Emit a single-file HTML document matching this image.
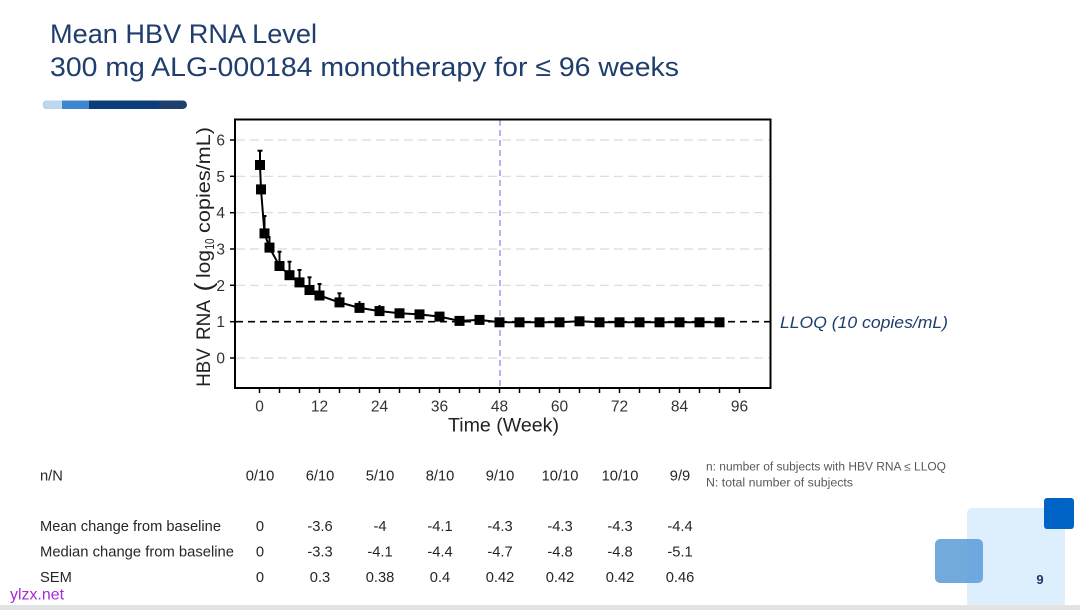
<!DOCTYPE html>
<html>
<head>
<meta charset="utf-8">
<style>
html,body{margin:0;padding:0;background:#fff;}
svg{display:block;}
</style>
</head>
<body>
<svg width="1080" height="610" viewBox="0 0 1080 610" xmlns="http://www.w3.org/2000/svg" font-family="'Liberation Sans', Arial, sans-serif">
  <rect x="0" y="0" width="1080" height="610" fill="#fff"/>

  <!-- Title -->
  <text x="50" y="43" font-size="27" fill="#1F3E6E" textLength="267" lengthAdjust="spacingAndGlyphs">Mean HBV RNA Level</text>
  <text x="50" y="76" font-size="27" fill="#1F3E6E" textLength="629" lengthAdjust="spacingAndGlyphs">300 mg ALG-000184 monotherapy for ≤ 96 weeks</text>

  <!-- decorative bar -->
  <rect x="43" y="100.5" width="144" height="8.5" rx="4.25" fill="#1F3F6E"/>
  <rect x="43" y="100.5" width="117" height="8.5" rx="4.25" fill="#0B3D7A"/>
  <rect x="43" y="100.5" width="50" height="8.5" rx="4.25" fill="#3E86CF"/>
  <rect x="89" y="100.5" width="8" height="8.5" fill="#0B3D7A"/>
  <rect x="43" y="100.5" width="24" height="8.5" rx="4.25" fill="#BDD7F0"/>
  <rect x="62" y="100.5" width="6" height="8.5" fill="#3E86CF"/>

  <!-- gridlines -->
  <g stroke="#d9d9d9" stroke-width="1.2" stroke-dasharray="9,5">
    <line x1="236" y1="140" x2="770" y2="140"/>
    <line x1="236" y1="176.3" x2="770" y2="176.3"/>
    <line x1="236" y1="212.7" x2="770" y2="212.7"/>
    <line x1="236" y1="249" x2="770" y2="249"/>
    <line x1="236" y1="285.3" x2="770" y2="285.3"/>
    <line x1="236" y1="358" x2="770" y2="358"/>
  </g>

  <!-- vertical week 48 line -->
  <line x1="500" y1="120" x2="500" y2="387" stroke="#a3a3f2" stroke-width="1.6" stroke-dasharray="6,4"/>

  <!-- LLOQ line -->
  <line x1="236" y1="321.7" x2="770" y2="321.7" stroke="#000" stroke-width="1.6" stroke-dasharray="7,5"/>

  <!-- frame -->
  <rect x="235" y="119.5" width="535.5" height="268.5" fill="none" stroke="#000" stroke-width="2"/>

  <!-- y ticks -->
  <g stroke="#000" stroke-width="1.5">
    <line x1="230" y1="140" x2="235" y2="140"/>
    <line x1="230" y1="176.3" x2="235" y2="176.3"/>
    <line x1="230" y1="212.7" x2="235" y2="212.7"/>
    <line x1="230" y1="249" x2="235" y2="249"/>
    <line x1="230" y1="285.3" x2="235" y2="285.3"/>
    <line x1="230" y1="321.7" x2="235" y2="321.7"/>
    <line x1="230" y1="358" x2="235" y2="358"/>
  </g>
  <g font-size="15.5" fill="#333" text-anchor="end">
    <text x="225" y="145.5">6</text>
    <text x="225" y="181.8">5</text>
    <text x="225" y="218.2">4</text>
    <text x="225" y="254.5">3</text>
    <text x="225" y="290.8">2</text>
    <text x="225" y="327.2">1</text>
    <text x="225" y="363.5">0</text>
  </g>

  <!-- x ticks -->
  <g stroke="#000" stroke-width="1.5">
    <line x1="259.5" y1="388" x2="259.5" y2="393"/>
    <line x1="279.5" y1="388" x2="279.5" y2="393"/>
    <line x1="299.5" y1="388" x2="299.5" y2="393"/>
    <line x1="319.5" y1="388" x2="319.5" y2="393"/>
    <line x1="339.5" y1="388" x2="339.5" y2="393"/>
    <line x1="359.5" y1="388" x2="359.5" y2="393"/>
    <line x1="379.5" y1="388" x2="379.5" y2="393"/>
    <line x1="399.5" y1="388" x2="399.5" y2="393"/>
    <line x1="419.5" y1="388" x2="419.5" y2="393"/>
    <line x1="439.5" y1="388" x2="439.5" y2="393"/>
    <line x1="459.5" y1="388" x2="459.5" y2="393"/>
    <line x1="479.5" y1="388" x2="479.5" y2="393"/>
    <line x1="499.5" y1="388" x2="499.5" y2="393"/>
    <line x1="519.5" y1="388" x2="519.5" y2="393"/>
    <line x1="539.5" y1="388" x2="539.5" y2="393"/>
    <line x1="559.5" y1="388" x2="559.5" y2="393"/>
    <line x1="579.5" y1="388" x2="579.5" y2="393"/>
    <line x1="599.5" y1="388" x2="599.5" y2="393"/>
    <line x1="619.5" y1="388" x2="619.5" y2="393"/>
    <line x1="639.5" y1="388" x2="639.5" y2="393"/>
    <line x1="659.5" y1="388" x2="659.5" y2="393"/>
    <line x1="679.5" y1="388" x2="679.5" y2="393"/>
    <line x1="699.5" y1="388" x2="699.5" y2="393"/>
    <line x1="719.5" y1="388" x2="719.5" y2="393"/>
    <line x1="739.5" y1="388" x2="739.5" y2="393"/>
  </g>
  <g font-size="15.5" fill="#333" text-anchor="middle">
    <text x="259.5" y="411.5">0</text>
    <text x="319.5" y="411.5">12</text>
    <text x="379.5" y="411.5">24</text>
    <text x="439.5" y="411.5">36</text>
    <text x="499.5" y="411.5">48</text>
    <text x="559.5" y="411.5">60</text>
    <text x="619.5" y="411.5">72</text>
    <text x="679.5" y="411.5">84</text>
    <text x="739.5" y="411.5">96</text>
  </g>

  <!-- axis titles -->
  <text x="448" y="431.5" font-size="19.4" fill="#222" textLength="111" lengthAdjust="spacingAndGlyphs">Time (Week)</text>
  <g fill="#222" font-size="19">
    <text transform="translate(210,386.7) rotate(-90)" textLength="38.4" lengthAdjust="spacingAndGlyphs">HBV</text>
    <text transform="translate(210,340) rotate(-90)" textLength="40" lengthAdjust="spacingAndGlyphs">RNA</text>
    <text transform="translate(212,291.5) rotate(-90)" font-size="25" textLength="9" lengthAdjust="spacingAndGlyphs">(</text>
    <text transform="translate(210,278) rotate(-90)" textLength="28" lengthAdjust="spacingAndGlyphs">log</text>
    <text transform="translate(214,249.5) rotate(-90)" font-size="13" textLength="11" lengthAdjust="spacingAndGlyphs">10</text>
    <text transform="translate(210,233) rotate(-90)" textLength="106" lengthAdjust="spacingAndGlyphs">copies/mL)</text>
  </g>

  <!-- LLOQ label -->
  <text x="780" y="328" font-size="16.5" font-style="italic" fill="#1F3E6E" textLength="168" lengthAdjust="spacingAndGlyphs">LLOQ (10 copies/mL)</text>

  <!-- error bars -->
  <g stroke="#000" stroke-width="2">
    <line x1="260" y1="150.7" x2="260" y2="165"/>
    <line x1="257.5" y1="150.7" x2="262.5" y2="150.7"/>
    <line x1="264.5" y1="216" x2="264.5" y2="233.4"/>
    <line x1="262.5" y1="216" x2="266.5" y2="216"/>
    <line x1="269.5" y1="236" x2="269.5" y2="247.6"/>
    <line x1="279.5" y1="251.7" x2="279.5" y2="266"/>
    <line x1="277.5" y1="251.7" x2="281.5" y2="251.7"/>
    <line x1="289.5" y1="261.7" x2="289.5" y2="275"/>
    <line x1="287.5" y1="261.7" x2="291.5" y2="261.7"/>
    <line x1="299.5" y1="270" x2="299.5" y2="282.4"/>
    <line x1="297.5" y1="270" x2="301.5" y2="270"/>
    <line x1="309.5" y1="277.3" x2="309.5" y2="290"/>
    <line x1="307.5" y1="277.3" x2="311.5" y2="277.3"/>
    <line x1="319.5" y1="284" x2="319.5" y2="295.5"/>
    <line x1="317.5" y1="284" x2="321.5" y2="284"/>
    <line x1="339.5" y1="293.3" x2="339.5" y2="302.4"/>
    <line x1="337.5" y1="293.3" x2="341.5" y2="293.3"/>
    <line x1="359.5" y1="301" x2="359.5" y2="307.9"/>
    <line x1="379.5" y1="305" x2="379.5" y2="311"/>
  </g>

  <!-- line -->
  <polyline fill="none" stroke="#000" stroke-width="2" stroke-linejoin="round"
    points="260,165 261,189.4 264.5,233.4 269.5,247.6 279.5,266 289.5,275.2 299.5,282.4 309.5,290 319.5,295.5 339.5,302.4 359.5,307.9 379.5,311.1 399.5,313.3 419.5,314.4 439.5,316.6 459.5,320.9 479.5,319.9 499.5,322.3 519.5,322.3 539.5,322.3 559.5,322.3 579.5,321.3 599.5,322.3 619.5,322.3 639.5,322.3 659.5,322.3 679.5,322.3 699.5,322.3 719.5,322.3"/>

  <!-- markers -->
  <g fill="#000">
    <rect x="255" y="160" width="10" height="10"/>
    <rect x="256" y="184.4" width="10" height="10"/>
    <rect x="259.5" y="228.4" width="10" height="10"/>
    <rect x="264.5" y="242.6" width="10" height="10"/>
    <rect x="274.5" y="261" width="10" height="10"/>
    <rect x="284.5" y="270.2" width="10" height="10"/>
    <rect x="294.5" y="277.4" width="10" height="10"/>
    <rect x="304.5" y="285" width="10" height="10"/>
    <rect x="314.5" y="290.5" width="10" height="10"/>
    <rect x="334.5" y="297.4" width="10" height="10"/>
    <rect x="354.5" y="302.9" width="10" height="10"/>
    <rect x="374.5" y="306.1" width="10" height="10"/>
    <rect x="394.5" y="308.3" width="10" height="10"/>
    <rect x="414.5" y="309.4" width="10" height="10"/>
    <rect x="434.5" y="311.6" width="10" height="10"/>
    <rect x="454.5" y="315.9" width="10" height="10"/>
    <rect x="474.5" y="314.9" width="10" height="10"/>
    <rect x="494.5" y="317.3" width="10" height="10"/>
    <rect x="514.5" y="317.3" width="10" height="10"/>
    <rect x="534.5" y="317.3" width="10" height="10"/>
    <rect x="554.5" y="317.3" width="10" height="10"/>
    <rect x="574.5" y="316.3" width="10" height="10"/>
    <rect x="594.5" y="317.3" width="10" height="10"/>
    <rect x="614.5" y="317.3" width="10" height="10"/>
    <rect x="634.5" y="317.3" width="10" height="10"/>
    <rect x="654.5" y="317.3" width="10" height="10"/>
    <rect x="674.5" y="317.3" width="10" height="10"/>
    <rect x="694.5" y="317.3" width="10" height="10"/>
    <rect x="714.5" y="317.3" width="10" height="10"/>
  </g>

  <!-- table -->
  <g font-size="14.7" fill="#262626">
    <text x="40" y="480.5">n/N</text>
    <text x="40" y="531" textLength="181" lengthAdjust="spacingAndGlyphs">Mean change from baseline</text>
    <text x="40" y="556.5" textLength="194" lengthAdjust="spacingAndGlyphs">Median change from baseline</text>
    <text x="40" y="582">SEM</text>
  </g>
  <g font-size="14.7" fill="#262626" text-anchor="middle">
    <text x="260" y="480.5">0/10</text>
    <text x="320" y="480.5">6/10</text>
    <text x="380" y="480.5">5/10</text>
    <text x="440" y="480.5">8/10</text>
    <text x="500" y="480.5">9/10</text>
    <text x="560" y="480.5">10/10</text>
    <text x="620" y="480.5">10/10</text>
    <text x="680" y="480.5">9/9</text>

    <text x="260" y="531">0</text>
    <text x="320" y="531">-3.6</text>
    <text x="380" y="531">-4</text>
    <text x="440" y="531">-4.1</text>
    <text x="500" y="531">-4.3</text>
    <text x="560" y="531">-4.3</text>
    <text x="620" y="531">-4.3</text>
    <text x="680" y="531">-4.4</text>

    <text x="260" y="556.5">0</text>
    <text x="320" y="556.5">-3.3</text>
    <text x="380" y="556.5">-4.1</text>
    <text x="440" y="556.5">-4.4</text>
    <text x="500" y="556.5">-4.7</text>
    <text x="560" y="556.5">-4.8</text>
    <text x="620" y="556.5">-4.8</text>
    <text x="680" y="556.5">-5.1</text>

    <text x="260" y="582">0</text>
    <text x="320" y="582">0.3</text>
    <text x="380" y="582">0.38</text>
    <text x="440" y="582">0.4</text>
    <text x="500" y="582">0.42</text>
    <text x="560" y="582">0.42</text>
    <text x="620" y="582">0.42</text>
    <text x="680" y="582">0.46</text>
  </g>

  <!-- note -->
  <g font-size="11.5" fill="#595959">
    <text x="706" y="470.5" textLength="240" lengthAdjust="spacingAndGlyphs">n: number of subjects with HBV RNA ≤ LLOQ</text>
    <text x="706" y="486.5" textLength="147" lengthAdjust="spacingAndGlyphs">N: total number of subjects</text>
  </g>

  <!-- decorative squares -->
  <rect x="967" y="508" width="98" height="110" rx="5" fill="#DDEEFD"/>
  <rect x="935" y="539" width="48" height="44" rx="5" fill="#5B9BD8" fill-opacity="0.85"/>
  <rect x="1044" y="498" width="30" height="31" rx="3" fill="#0063C6"/>
  <text x="1040" y="584" font-size="13" font-weight="bold" fill="#1F3864" text-anchor="middle">9</text>

  <!-- bottom band -->
  <rect x="0" y="605" width="1080" height="5" fill="#e3e3e3"/>

  <!-- watermark -->
  <text x="10" y="599.5" font-size="16" fill="#A52AD8" textLength="54" lengthAdjust="spacingAndGlyphs">ylzx.net</text>
</svg>
</body>
</html>
